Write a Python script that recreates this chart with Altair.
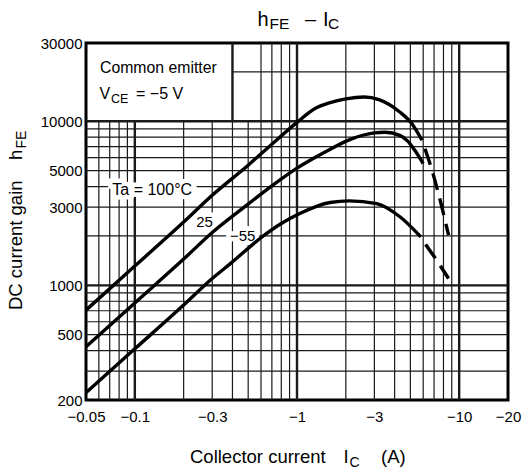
import altair as alt
import pandas as pd

FONT = "Liberation Sans"

# ---- hFE vs |IC| at VCE = -5 V, one curve per ambient temperature ----
# |IC| in A, hFE dimensionless; *_ext are the dashed continuations
ic_100 = [0.05, 0.1, 0.2, 0.3, 0.5, 0.7, 1.0, 1.3, 1.6, 2.0, 2.6, 3.2, 4.3, 5.1, 5.9]
hfe_100 = [706, 1310, 2430, 3540, 5400, 7250, 9850, 12000, 13000, 13700, 14050, 13550,
           11400, 9700, 7660]
ic_100_ext = [5.9, 6.25, 6.7, 7.45, 8.6]
hfe_100_ext = [7660, 6500, 5270, 3630, 2020]

ic_25 = [0.05, 0.1, 0.2, 0.3, 0.5, 0.7, 1.0, 1.5, 2.1, 3.0, 3.5, 4.3, 4.8, 5.3, 6.0]
hfe_25 = [422, 781, 1445, 2100, 3130, 4040, 5180, 6520, 7710, 8500, 8580, 8200, 7600,
          6700, 5520]

ic_m55 = [0.05, 0.1, 0.2, 0.3, 0.39, 0.62, 0.8, 1.04, 1.6, 2.1, 3.1, 4.33, 5.8]
hfe_m55 = [222, 410, 758, 1100, 1360, 2000, 2380, 2740, 3200, 3270, 3150, 2610, 1975]
ic_m55_ext = [5.8, 6.25, 7.1, 8.6]
hfe_m55_ext = [1975, 1760, 1470, 1100]

# temperature labels placed beside the curves
label_text = ["Ta = 100°C", "25", "−55"]
label_ic = [0.128, 0.269, 0.462]
label_hfe = [3800, 2440, 2000]
label_size = [16, 15, 15]

# axis ticks and log grid
x_domain = [0.05, 20]
y_domain = [200, 30000]
x_ticks = [0.05, 0.1, 0.3, 1, 3, 10, 20]
y_ticks = [200, 500, 1000, 3000, 5000, 10000, 30000]
grid_x = [0.06, 0.07, 0.08, 0.09, 0.1, 0.2, 0.3, 0.4, 0.5, 0.6, 0.7, 0.8, 0.9,
          1, 2, 3, 4, 5, 6, 7, 8, 9, 10]
grid_x_upper = [0.4, 0.6, 0.7, 0.8, 0.9, 1, 2, 3, 4, 5, 6, 7, 8, 9, 10]
grid_y = [300, 400, 500, 600, 700, 800, 900, 1000, 2000, 3000, 4000, 5000,
          6000, 7000, 8000, 9000, 10000]
grid_y_upper = [20000]
major_x = [0.1, 1, 10]
major_x_upper = [0.1, 1, 10, 0.4]
major_y = [1000, 10000]

W, H = 422, 357
LEFT, TOP = 86, 43
THIN, THICK = 1.2, 2.4

xs = alt.Scale(type="log", domain=x_domain, nice=False)
ys = alt.Scale(type="log", domain=y_domain, nice=False)


def curve_frame(series):
    rows = []
    for name, (xv, yv) in series.items():
        for i, (a, b) in enumerate(zip(xv, yv)):
            rows.append({"series": name, "ic": a, "hfe": b, "order": i})
    return pd.DataFrame(rows)


solid = curve_frame({"100": (ic_100, hfe_100), "25": (ic_25, hfe_25),
                     "-55": (ic_m55, hfe_m55)})
dashed = curve_frame({"100": (ic_100_ext, hfe_100_ext),
                      "-55": (ic_m55_ext, hfe_m55_ext)})

vert = pd.DataFrame(
    [{"x": v, "y1": 200, "y2": 10000, "w": THICK if v in major_x else THIN} for v in grid_x]
    + [{"x": v, "y1": 10000, "y2": 30000, "w": THICK if v in major_x_upper else THIN}
       for v in grid_x_upper]
)
horiz = pd.DataFrame(
    [{"y": v, "x1": 0.05, "x2": 20, "w": THICK if v in major_y else THIN} for v in grid_y]
    + [{"y": v, "x1": 0.4, "x2": 20, "w": THIN} for v in grid_y_upper]
)

vgrid = alt.Chart(vert).mark_rule(color="#1a1a1a").encode(
    x=alt.X("x:Q", scale=xs),
    y=alt.Y("y1:Q", scale=ys),
    y2="y2:Q",
    strokeWidth=alt.StrokeWidth("w:Q", scale=None),
)
hgrid = alt.Chart(horiz).mark_rule(color="#1a1a1a").encode(
    y=alt.Y("y:Q", scale=ys),
    x=alt.X("x1:Q", scale=xs),
    x2="x2:Q",
    strokeWidth=alt.StrokeWidth("w:Q", scale=None),
)

x_axis = alt.Axis(values=x_ticks, labelExpr="'−' + datum.value", labelFont=FONT,
                  labelFontSize=15, labelColor="black", labelPadding=9, ticks=False,
                  domain=False, grid=False, labelFlush=False, labelOverlap=False)
y_axis = alt.Axis(values=y_ticks, format="d", labelFont=FONT, labelFontSize=15,
                  labelColor="black", labelPadding=4, ticks=False, domain=False,
                  grid=False, labelFlush=False, labelOverlap=False)

curves = alt.Chart(solid).mark_line(color="black", strokeWidth=3.4,
                                    interpolate="monotone").encode(
    x=alt.X("ic:Q", scale=xs, axis=x_axis, title=""),
    y=alt.Y("hfe:Q", scale=ys, axis=y_axis, title=""),
    detail="series:N",
    order="order:Q",
)
ext = alt.Chart(dashed).mark_line(color="black", strokeWidth=3.4, strokeDash=[17, 9],
                                  strokeDashOffset=17, interpolate="monotone").encode(
    x=alt.X("ic:Q", scale=xs),
    y=alt.Y("hfe:Q", scale=ys),
    detail="series:N",
    order="order:Q",
)

labels = pd.DataFrame({"t": label_text, "ic": label_ic, "hfe": label_hfe, "fs": label_size})
halo = alt.Chart(labels).mark_text(font=FONT, stroke="white", strokeWidth=9,
                                   fill="white", baseline="middle").encode(
    x=alt.X("ic:Q", scale=xs), y=alt.Y("hfe:Q", scale=ys), text="t:N",
    size=alt.Size("fs:Q", scale=None),
)
label_marks = alt.Chart(labels).mark_text(font=FONT, color="black",
                                          baseline="middle").encode(
    x=alt.X("ic:Q", scale=xs), y=alt.Y("hfe:Q", scale=ys), text="t:N",
    size=alt.Size("fs:Q", scale=None),
)

# title, x-axis title and condition box: pieces so subscripts sit lower and smaller
pieces = pd.DataFrame([
    {"t": "h", "px": 257.5, "py": 26, "fs": 20},
    {"t": "FE", "px": 269.5, "py": 29, "fs": 15.5},
    {"t": "–", "px": 305, "py": 26, "fs": 20},
    {"t": "I", "px": 323, "py": 26, "fs": 20},
    {"t": "C", "px": 328, "py": 29, "fs": 15.5},
    {"t": "Collector current", "px": 190, "py": 463, "fs": 18.5},
    {"t": "I", "px": 343.5, "py": 463, "fs": 18.5},
    {"t": "C", "px": 349.5, "py": 467, "fs": 14},
    {"t": "(A)", "px": 381, "py": 463, "fs": 18.5},
    {"t": "Common emitter", "px": 100, "py": 73, "fs": 15.8},
    {"t": "V", "px": 99.5, "py": 99, "fs": 16},
    {"t": "CE", "px": 111, "py": 102.5, "fs": 12.5},
    {"t": "= −5 V", "px": 136, "py": 99, "fs": 16},
])
pieces["vx"] = pieces["px"] - LEFT
pieces["vy"] = pieces["py"] - TOP
texts = alt.Chart(pieces).mark_text(font=FONT, color="black", align="left",
                                    baseline="alphabetic").encode(
    x=alt.X("vx:Q", scale=None), y=alt.Y("vy:Q", scale=None), text="t:N",
    size=alt.Size("fs:Q", scale=None),
)

ypieces = pd.DataFrame([
    {"t": "DC current gain", "px": 22, "py": 310, "fs": 18.5},
    {"t": "h", "px": 22, "py": 160, "fs": 18.5},
    {"t": "FE", "px": 25.5, "py": 148.5, "fs": 14},
])
ypieces["vx"] = ypieces["px"] - LEFT
ypieces["vy"] = ypieces["py"] - TOP
ytitle = alt.Chart(ypieces).mark_text(font=FONT, color="black", align="left",
                                      baseline="alphabetic", angle=270).encode(
    x=alt.X("vx:Q", scale=None), y=alt.Y("vy:Q", scale=None), text="t:N",
    size=alt.Size("fs:Q", scale=None),
)

chart = alt.layer(vgrid, hgrid, halo, curves, ext, label_marks, texts, ytitle).properties(
    width=W, height=H,
    padding={"left": LEFT, "top": TOP, "right": 528 - LEFT - W, "bottom": 473 - TOP - H},
    autosize=alt.AutoSizeParams(type="none"),
    background="white",
).configure_view(stroke="black", strokeWidth=3)

chart.save("out.html", embed_options={"renderer": "svg", "actions": False})
